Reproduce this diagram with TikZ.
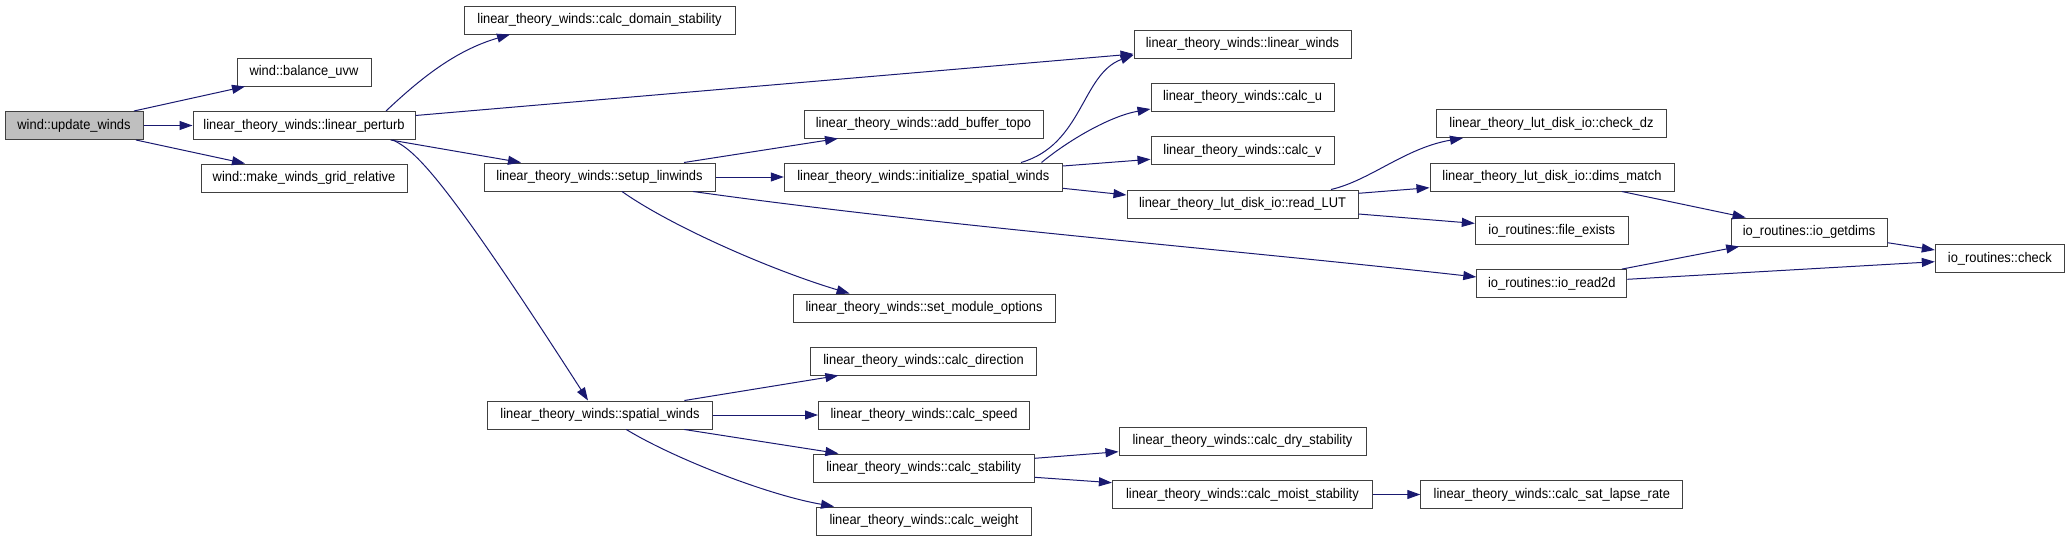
\documentclass[tikz,border=0pt]{standalone}
\usepackage{fontspec}
\setmainfont[FakeStretch=0.92]{Liberation Sans}
\usetikzlibrary{arrows.meta}
\definecolor{edgeblue}{HTML}{191970}
\definecolor{boxline}{HTML}{404040}
\definecolor{rootfill}{HTML}{BFBFBF}
\tikzset{
  fn/.style={draw=boxline, line width=1pt, fill=white, rectangle, inner sep=0pt,
    minimum height=28pt, font=\fontsize{14}{16}\selectfont, text=black},
  rootfn/.style={fn, fill=rootfill},
  call/.style={draw=edgeblue, line width=1pt,
    -{Triangle[length=13pt,width=9pt,fill=edgeblue]}},
}
\begin{document}
\begin{tikzpicture}[x=1pt,y=-1pt]
\useasboundingbox (0,0) rectangle (2069,541);
% nodes
\node[rootfn, minimum width=138pt] (uw)  at (74,125.5)   {wind::update\_winds};
\node[fn, minimum width=134pt] (bal)  at (304,72)      {wind::balance\_uvw};
\node[fn, minimum width=222pt] (lp)   at (304,125.5)   {linear\_theory\_winds::linear\_perturb};
\node[fn, minimum width=206pt] (mk)   at (304,178)     {wind::make\_winds\_grid\_relative};
\node[fn, minimum width=271pt] (cds)  at (599.5,20)    {linear\_theory\_winds::calc\_domain\_stability};
\node[fn, minimum width=231pt] (sl)   at (599.5,177)   {linear\_theory\_winds::setup\_linwinds};
\node[fn, minimum width=225pt] (sw)   at (600,415)     {linear\_theory\_winds::spatial\_winds};
\node[fn, minimum width=217pt] (lw)   at (1242.5,44)   {linear\_theory\_winds::linear\_winds};
\node[fn, minimum width=239pt] (abt)  at (923.5,124)   {linear\_theory\_winds::add\_buffer\_topo};
\node[fn, minimum width=278pt] (isw)  at (923.3,177)   {linear\_theory\_winds::initialize\_spatial\_winds};
\node[fn, minimum width=262pt] (smo)  at (924,308)     {linear\_theory\_winds::set\_module\_options};
\node[fn, minimum width=226pt] (cdir) at (923.6,361)   {linear\_theory\_winds::calc\_direction};
\node[fn, minimum width=211pt] (cspd) at (924,415)     {linear\_theory\_winds::calc\_speed};
\node[fn, minimum width=221pt] (cstab) at (923.7,468)  {linear\_theory\_winds::calc\_stability};
\node[fn, minimum width=215pt] (cwt)  at (924,521)     {linear\_theory\_winds::calc\_weight};
\node[fn, minimum width=183pt] (cu)   at (1242.5,97)   {linear\_theory\_winds::calc\_u};
\node[fn, minimum width=183pt] (cv)   at (1242.5,150.5){linear\_theory\_winds::calc\_v};
\node[fn, minimum width=231pt] (rlut) at (1242.5,204)  {linear\_theory\_lut\_disk\_io::read\_LUT};
\node[fn, minimum width=247pt] (cdry) at (1242.5,441.3){linear\_theory\_winds::calc\_dry\_stability};
\node[fn, minimum width=260pt] (cmoist) at (1242.4,494.5){linear\_theory\_winds::calc\_moist\_stability};
\node[fn, minimum width=230pt] (chkdz) at (1551.5,123.5){linear\_theory\_lut\_disk\_io::check\_dz};
\node[fn, minimum width=244pt] (dm)   at (1552,177)    {linear\_theory\_lut\_disk\_io::dims\_match};
\node[fn, minimum width=153pt] (fe)   at (1551.8,230.4){io\_routines::file\_exists};
\node[fn, minimum width=150pt] (ior)  at (1551.8,283.6){io\_routines::io\_read2d};
\node[fn, minimum width=262pt] (sat)  at (1551.8,494.5){linear\_theory\_winds::calc\_sat\_lapse\_rate};
\node[fn, minimum width=156pt] (gd)   at (1809,232)    {io\_routines::io\_getdims};
\node[fn, minimum width=129pt] (chk)  at (1999.8,258.5){io\_routines::check};
% edges
\draw[call] ([xshift=60pt]uw.north) -- ([xshift=-59pt]bal.south);
\draw[call] (uw.east) -- (lp.west);
\draw[call] ([xshift=62pt]uw.south) -- ([xshift=-59pt]mk.north);
\draw[call] ([xshift=82pt]lp.north) .. controls +(34,-32) and +(-55,16) .. ([xshift=-89.5pt]cds.south);
\draw[call] ([yshift=10pt]lp.east) -- ([yshift=-10pt]lw.west);
\draw[call] ([xshift=86.6pt]lp.south) -- ([xshift=-78.5pt]sl.north);
\draw[call] ([xshift=89pt]lp.south) .. controls +(22,11) and +(-148,-230) .. ([xshift=-12pt]sw.north);
\draw[call] ([xshift=84.5pt]sl.north) -- ([xshift=-85.5pt]abt.south);
\draw[call] (sl.east) -- (isw.west);
\draw[call] ([xshift=22.5pt]sl.south) .. controls +(48,34) and +(-80,-24) .. ([xshift=-74.4pt]smo.north);
\draw[call] ([xshift=93.5pt]sl.south) .. controls +(250,35) and +(-250,-28) .. ([yshift=6.6pt]ior.west);
\draw[call] ([xshift=97.7pt]isw.north) .. controls +(62,-18) and +(-52,19) .. ([yshift=-11pt]lw.west);
\draw[call] ([xshift=118.2pt]isw.north) .. controls +(28,-23) and +(-40,7) .. ([yshift=-12pt]cu.west);
\draw[call] ([yshift=11pt]isw.east) -- ([yshift=-8.8pt]cv.west);
\draw[call] ([yshift=-11.3pt]isw.east) -- ([yshift=9pt]rlut.west);
\draw[call] ([xshift=88.5pt]rlut.north) .. controls +(39,-9) and +(-58,10) .. ([xshift=-88.5pt]chkdz.south);
\draw[call] ([yshift=10.7pt]rlut.east) -- ([yshift=-10.7pt]dm.west);
\draw[call] ([yshift=-10pt]rlut.east) -- ([yshift=7pt]fe.west);
\draw[call] ([xshift=69.8pt]dm.south) -- ([xshift=-63.4pt]gd.north);
\draw[call] ([xshift=70pt]ior.north) -- ([xshift=-69.8pt]gd.south);
\draw[call] ([yshift=4.3pt]ior.east) -- ([yshift=-3.2pt]chk.west);
\draw[call] ([yshift=-10.7pt]gd.east) -- ([yshift=8.5pt]chk.west);
\draw[call] ([xshift=84.4pt]sw.north) -- ([xshift=-85.2pt]cdir.south);
\draw[call] (sw.east) -- (cspd.west);
\draw[call] ([xshift=84.4pt]sw.south) -- ([xshift=-85.3pt]cstab.north);
\draw[call] ([xshift=26.3pt]sw.south) .. controls +(44,27) and +(-69,-12) .. ([xshift=-90pt]cwt.north);
\draw[call] ([yshift=9.7pt]cstab.east) -- ([yshift=-10.4pt]cdry.west);
\draw[call] ([yshift=-9.3pt]cstab.east) -- ([yshift=11.8pt]cmoist.west);
\draw[call] (cmoist.east) -- (sat.west);
\end{tikzpicture}
\end{document}
